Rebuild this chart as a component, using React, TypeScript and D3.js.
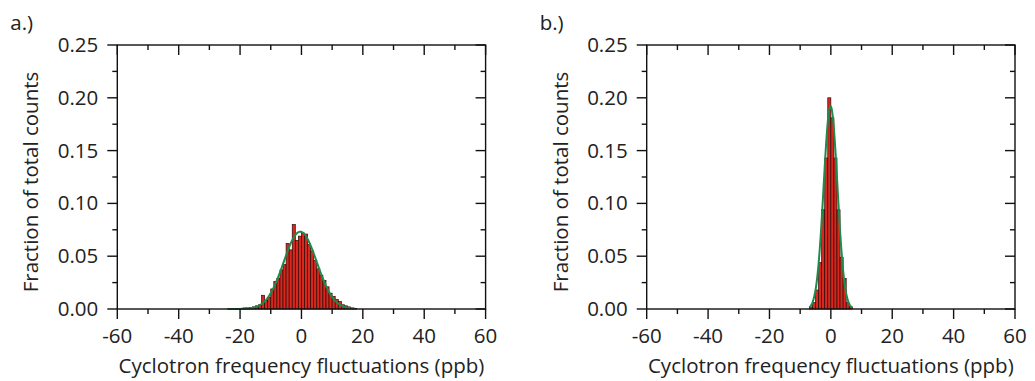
import React from "react";
import * as d3 from "d3";

// ---- data ----
const BIN_WIDTH = 1; // ppb
// Panel a: left bin edges (ppb) and fraction of counts
const binsA = [-24, -23, -22, -21, -20, -19, -18, -17, -16, -15, -14, -13, -12, -11, -10, -9, -8, -7, -6, -5, -4, -3, -2, -1, 0, 1, 2, 3, 4, 5, 6, 7, 8, 9, 10, 11, 12, 13, 14, 15, 16, 17];
const valuesA = [0.0005, 0.0005, 0.0005, 0.0005, 0.0005, 0.001, 0.001, 0.0015, 0.002, 0.003, 0.004, 0.013, 0.008, 0.011, 0.019, 0.026, 0.029, 0.037, 0.042, 0.062, 0.056, 0.080, 0.065, 0.069, 0.072, 0.071, 0.061, 0.055, 0.046, 0.038, 0.032, 0.027, 0.021, 0.015, 0.012, 0.009, 0.007, 0.004, 0.003, 0.002, 0.001, 0.0005];
// Panel b
const binsB = [-7, -6, -5, -4, -3, -2, -1, 0, 1, 2, 3, 4, 5, 6];
const valuesB = [0.002, 0.006, 0.018, 0.044, 0.094, 0.143, 0.200, 0.181, 0.143, 0.094, 0.049, 0.029, 0.006, 0.002];

// Gaussian fit parameters: [mean, sigma, peak], drawn range
const fitA = { mu: -0.4, sigma: 5.4, peak: 0.0732, from: -24, to: 17.5 };
const fitB = { mu: -0.1, sigma: 2.25, peak: 0.192, from: -7, to: 7 };

const xMajor = [-60, -40, -20, 0, 20, 40, 60];
const xMinor = [-50, -30, -10, 10, 30, 50];
const yMajor = [0, 0.05, 0.1, 0.15, 0.2, 0.25];
const yMinor = [0.025, 0.075, 0.125, 0.175, 0.225];

const panelLabels = ["a.)", "b.)"];
const xTitle = "Cyclotron frequency fluctuations (ppb)";
const yTitle = "Fraction of total counts";

const FONT = "'Open Sans', sans-serif";
const FS = 20.5;
const BAR_FILL = "#d8281e";
const BAR_STROKE = "#2a0a08";
const FIT_COLOR = "#1e8a4c";

type Fit = { mu: number; sigma: number; peak: number; from: number; to: number };

function Panel({ left, label, bins, values, fit }: { left: number; label: string; bins: number[]; values: number[]; fit: Fit }) {
  const x0 = left, x1 = left + 368.3;
  const y0 = 309, y1 = 45;
  const x = d3.scaleLinear().domain([-60, 60]).range([x0, x1]);
  const y = d3.scaleLinear().domain([0, 0.25]).range([y0, y1]);
  const fmt = d3.format(".2f");
  const n = 200;
  const pts: [number, number][] = d3.range(n + 1).map((i) => {
    const v = fit.from + ((fit.to - fit.from) * i) / n;
    return [v, fit.peak * Math.exp(-((v - fit.mu) ** 2) / (2 * fit.sigma ** 2))];
  });
  const line = d3.line<[number, number]>().x((d) => x(d[0])).y((d) => y(d[1]));
  const ax = 1.4;
  return (
    <g>
      <text x={left - 107} y={30} fontFamily={FONT} fontSize={FS} fill="#222">{label}</text>
      {bins.map((b, i) => (
        <rect key={i} x={x(b)} y={y(values[i])} width={x(b + BIN_WIDTH) - x(b)} height={y0 - y(values[i])}
          fill={BAR_FILL} stroke={BAR_STROKE} strokeWidth={0.7} />
      ))}
      <path d={line(pts) || ""} fill="none" stroke={FIT_COLOR} strokeWidth={2} />
      <rect x={x0} y={y1} width={x1 - x0} height={y0 - y1} fill="none" stroke="#111" strokeWidth={ax} />
      {xMajor.map((t) => (
        <g key={"xM" + t}>
          <line x1={x(t)} x2={x(t)} y1={y0} y2={y0 + 10} stroke="#111" strokeWidth={ax} />
          <line x1={x(t)} x2={x(t)} y1={y1} y2={y1 + 10} stroke="#111" strokeWidth={ax} />
          <text x={x(t)} y={343} textAnchor="middle" fontFamily={FONT} fontSize={FS} fill="#222">{t}</text>
        </g>
      ))}
      {xMinor.map((t) => (
        <g key={"xm" + t}>
          <line x1={x(t)} x2={x(t)} y1={y0} y2={y0 + 5} stroke="#111" strokeWidth={ax} />
          <line x1={x(t)} x2={x(t)} y1={y1} y2={y1 + 5} stroke="#111" strokeWidth={ax} />
        </g>
      ))}
      {yMajor.map((t) => (
        <g key={"yM" + t}>
          <line x1={x0 - 10} x2={x0} y1={y(t)} y2={y(t)} stroke="#111" strokeWidth={ax} />
          <line x1={x1 - 10} x2={x1} y1={y(t)} y2={y(t)} stroke="#111" strokeWidth={ax} />
          <text x={x0 - 19} y={y(t) + 7} textAnchor="end" fontFamily={FONT} fontSize={FS} fill="#222">{fmt(t)}</text>
        </g>
      ))}
      {yMinor.map((t) => (
        <g key={"ym" + t}>
          <line x1={x0 - 5} x2={x0} y1={y(t)} y2={y(t)} stroke="#111" strokeWidth={ax} />
          <line x1={x1 - 5} x2={x1} y1={y(t)} y2={y(t)} stroke="#111" strokeWidth={ax} />
        </g>
      ))}
      <text x={(x0 + x1) / 2} y={373} textAnchor="middle" fontFamily={FONT} fontSize={FS} fill="#222">{xTitle}</text>
      <text transform={`translate(${left - 79},${(y0 + y1) / 2 + 5}) rotate(-90)`} textAnchor="middle" fontFamily={FONT} fontSize={FS} fill="#222">{yTitle}</text>
    </g>
  );
}

export default function App() {
  return (
    <svg width={1035} height={381} style={{ position: "absolute", left: 0, top: 0, background: "#fff" }}>
      <Panel left={117.3} label={panelLabels[0]} bins={binsA} values={valuesA} fit={fitA} />
      <Panel left={646.7} label={panelLabels[1]} bins={binsB} values={valuesB} fit={fitB} />
    </svg>
  );
}
